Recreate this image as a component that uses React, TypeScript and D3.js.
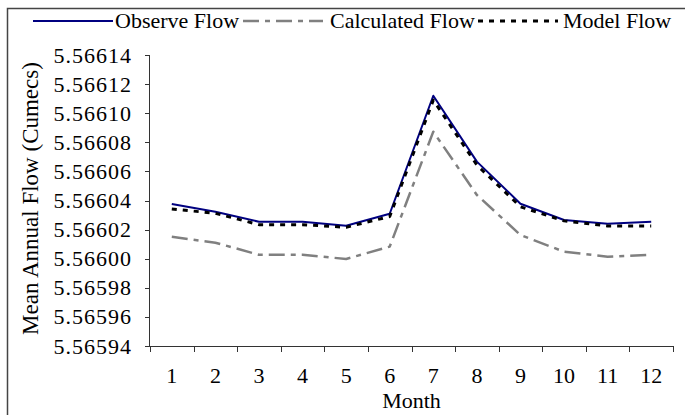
import React from "react";
import * as d3 from "d3";

const months = [1, 2, 3, 4, 5, 6, 7, 8, 9, 10, 11, 12];
const observeFlow = [5.5660376, 5.5660323, 5.5660254, 5.5660254, 5.5660227, 5.5660309, 5.566112, 5.5660667, 5.5660378, 5.5660266, 5.566024, 5.5660254];
const calculatedFlow = [5.5660151, 5.566011, 5.5660027, 5.5660027, 5.5659998, 5.5660083, 5.5660873, 5.5660438, 5.5660163, 5.5660048, 5.5660014, 5.5660027];
const modelFlow = [5.5660342, 5.5660312, 5.5660234, 5.5660234, 5.5660216, 5.566029, 5.566109, 5.5660644, 5.5660357, 5.566026, 5.5660225, 5.5660225];
const yTicks = [5.56594, 5.56596, 5.56598, 5.566, 5.56602, 5.56604, 5.56606, 5.56608, 5.5661, 5.56612, 5.56614];
const seriesNames = ["Observe Flow", "Calculated Flow", "Model Flow"];

const W = 685;
const H = 415;
const left = 150;
const right = 673;
const top = 55;
const bottom = 346;
const FONT = "'Liberation Serif', 'Times New Roman', serif";

const styles = [
  { stroke: "#000080", width: 2, dash: "" },
  { stroke: "#808080", width: 2.5, dash: "16,6,5,6" },
  { stroke: "#000000", width: 3, dash: "5,6" },
];

export default function App() {
  const x = d3.scaleBand<number>().domain(months).range([left, right]).padding(0);
  const y = d3.scaleLinear().domain([5.56594, 5.56614]).range([bottom, top]);
  const bw = x.bandwidth();
  const line = d3
    .line<number>()
    .x((_, i) => (x(months[i]) as number) + bw / 2)
    .y((v) => y(v));
  const series = [observeFlow, calculatedFlow, modelFlow];
  const fmt = d3.format(".5f");
  const boundaries = [...months.map((m) => x(m) as number), (x(months[months.length - 1]) as number) + bw];

  const legendX = [
    { lx: 33, tx: 115 },
    { lx: 243, tx: 330 },
    { lx: 478, tx: 563 },
  ];
  const legendY = 21;

  return (
    <svg width={W} height={H} style={{ position: "absolute", left: 0, top: 0, background: "#fff" }} fontFamily={FONT}>
      <rect x={0} y={0} width={W} height={H} fill="#fff" />
      <rect x={7.5} y={8.5} width={W + 10} height={H + 10} fill="none" stroke="#444" strokeWidth={1.5} />
      {/* legend */}
      {seriesNames.map((n, i) => (
        <g key={n}>
          <line x1={legendX[i].lx} x2={legendX[i].lx + 80} y1={legendY} y2={legendY} stroke={styles[i].stroke} strokeWidth={styles[i].width} strokeDasharray={styles[i].dash} />
          <text x={legendX[i].tx} y={legendY + 7} fontSize={22} fill="#000">{n}</text>
        </g>
      ))}
      {/* y axis */}
      <line x1={left - 0.5} x2={left - 0.5} y1={top} y2={bottom} stroke="#333" strokeWidth={1} />
      {yTicks.map((t) => (
        <g key={t}>
          <line x1={left - 5} x2={left} y1={Math.round(y(t)) + 0.5} y2={Math.round(y(t)) + 0.5} stroke="#333" />
          <text x={132} y={y(t) + 7.5} fontSize={22} letterSpacing={1} textAnchor="end" fill="#000">{fmt(t)}</text>
        </g>
      ))}
      {/* x axis */}
      <line x1={left} x2={right} y1={bottom + 0.5} y2={bottom + 0.5} stroke="#333" strokeWidth={1} />
      {boundaries.map((b, i) => (
        <line key={i} x1={Math.round(b) + 0.5} x2={Math.round(b) + 0.5} y1={bottom} y2={bottom + 6} stroke="#333" />
      ))}
      {months.map((m) => (
        <text key={m} x={(x(m) as number) + bw / 2} y={383} fontSize={22} textAnchor="middle" fill="#000">{m}</text>
      ))}
      <text x={(left + right) / 2} y={408} fontSize={22} textAnchor="middle" fill="#000">Month</text>
      <text transform={`translate(38, ${(top + bottom) / 2 - 2}) rotate(-90)`} fontSize={23} textAnchor="middle" fill="#000">Mean Annual Flow (Cumecs)</text>
      {/* series: calculated, observe, model */}
      {[1, 0, 2].map((i) => (
        <path key={i} d={line(series[i]) as string} fill="none" stroke={styles[i].stroke} strokeWidth={styles[i].width} strokeDasharray={styles[i].dash} strokeLinejoin="round" />
      ))}
    </svg>
  );
}
